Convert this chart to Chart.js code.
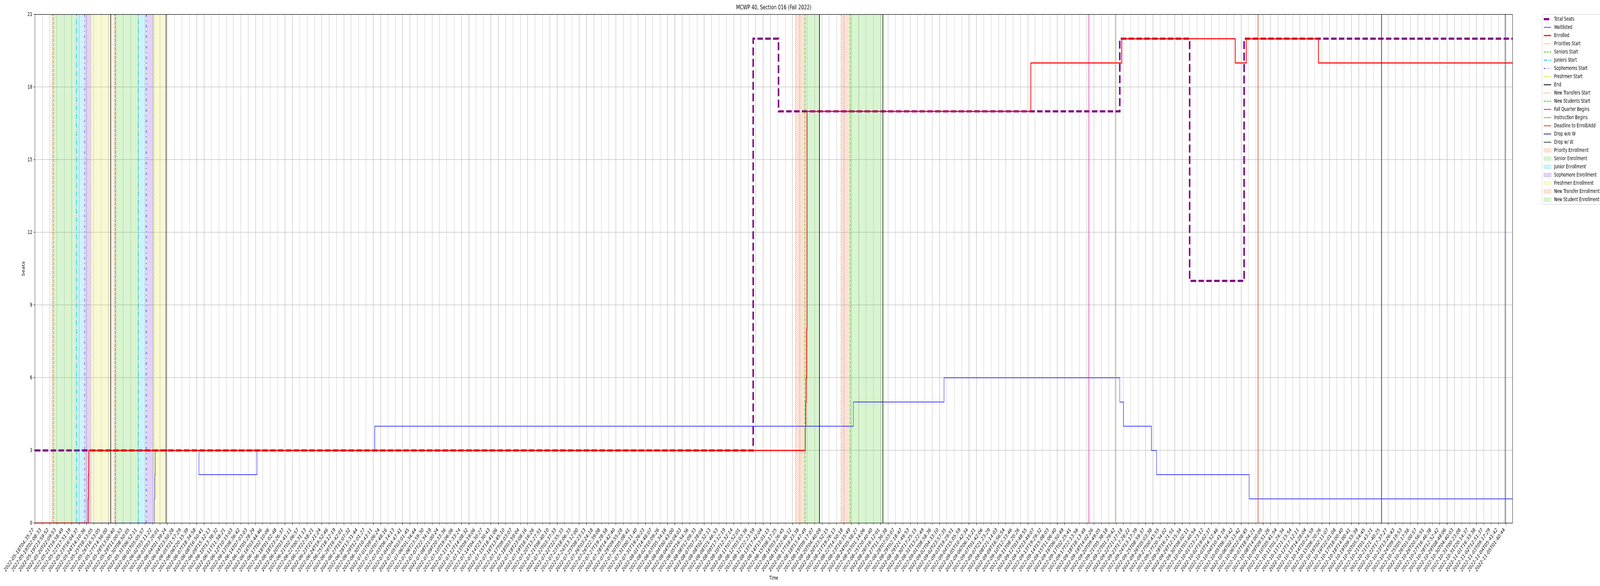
<!DOCTYPE html>
<html><head><meta charset="utf-8">
<script src="https://cdn.jsdelivr.net/npm/chart.js@4.4.1/dist/chart.umd.min.js"></script>
<style>html,body{margin:0;padding:0;background:#fff;overflow:hidden;}canvas{display:block;}</style>
</head><body>
<canvas id="c" width="6000" height="1500"></canvas>
<script>
// ---- tick labels (one per x index) ----
const tickLabels = [
"2022-05-18T04:35:27","2022-05-19T02:08:33","2022-05-19T23:59:52","2022-05-20T22:09:53","2022-05-21T19:58:49",
"2022-05-22T17:51:19","2022-05-23T16:04:37","2022-05-24T14:10:36","2022-05-25T18:53:05","2022-05-26T16:53:05",
"2022-05-27T14:56:00","2022-05-28T13:00:40","2022-05-29T11:00:53","2022-05-30T08:50:05","2022-05-31T06:52:11",
"2022-06-01T05:05:57","2022-06-02T03:11:22","2022-06-03T03:20:01","2022-06-04T01:39:24","2022-06-04T23:50:28",
"2022-06-05T21:57:29","2022-06-06T20:15:39","2022-06-07T18:34:58","2022-06-08T16:50:41","2022-06-09T15:12:13",
"2022-06-10T13:38:32","2022-06-11T11:58:21","2022-06-12T10:15:03","2022-06-13T08:36:42","2022-06-14T07:03:03",
"2022-06-15T05:28:29","2022-06-16T03:44:46","2022-06-17T02:10:06","2022-06-18T01:02:48","2022-06-18T23:26:37",
"2022-06-20T03:41:11","2022-06-21T02:06:57","2022-06-22T00:31:13","2022-06-22T22:58:21","2022-06-23T21:21:24",
"2022-06-24T19:52:46","2022-06-25T18:12:19","2022-06-26T16:42:01","2022-06-27T15:07:32","2022-06-28T13:31:44",
"2022-06-29T12:01:27","2022-06-30T10:43:11","2022-07-01T09:06:24","2022-07-02T07:48:16","2022-07-03T06:14:13",
"2022-07-04T04:47:41","2022-07-05T03:01:45","2022-07-06T01:34:44","2022-07-06T23:59:30","2022-07-07T22:34:19",
"2022-07-08T21:00:24","2022-07-09T20:33:36","2022-07-10T19:06:06","2022-07-11T17:33:24","2022-07-12T14:08:32",
"2022-07-13T09:19:06","2022-07-14T04:30:27","2022-07-14T23:30:43","2022-07-15T18:41:06","2022-07-16T13:45:10",
"2022-07-17T09:03:07","2022-07-18T03:59:04","2022-07-18T23:08:16","2022-07-19T18:16:26","2022-07-20T13:27:51",
"2022-07-21T08:40:10","2022-07-22T03:37:33","2022-07-22T22:55:33","2022-07-23T18:06:33","2022-07-24T13:12:00",
"2022-07-25T08:23:13","2022-07-26T03:24:18","2022-07-26T22:39:08","2022-07-27T19:28:58","2022-07-28T14:42:40",
"2022-07-29T09:55:28","2022-07-30T05:08:41","2022-07-31T00:11:40","2022-07-31T19:26:23","2022-08-01T14:48:07",
"2022-08-02T10:09:26","2022-08-03T05:34:16","2022-08-04T00:43:00","2022-08-04T20:04:03","2022-08-05T16:54:36",
"2022-08-06T12:09:33","2022-08-07T07:28:04","2022-08-08T02:32:13","2022-08-08T21:46:53","2022-08-09T17:12:19",
"2022-08-10T12:32:14","2022-08-11T07:52:01","2022-08-12T03:03:36","2022-08-12T22:23:59","2022-08-13T17:42:04",
"2022-08-14T13:01:15","2022-08-15T08:17:25","2022-08-16T03:26:45","2022-08-16T22:46:12","2022-08-17T18:23:38",
"2022-08-18T13:47:49","2022-08-19T09:17:07","2022-08-20T04:40:09","2022-08-20T23:52:15","2022-08-21T19:26:13",
"2022-08-22T14:50:18","2022-08-23T10:15:49","2022-08-24T05:58:27","2022-08-25T01:14:06","2022-08-25T20:40:40",
"2022-08-26T16:12:01","2022-08-27T11:36:38","2022-08-28T07:03:07","2022-08-29T02:18:47","2022-08-29T21:49:53",
"2022-08-30T17:25:15","2022-08-31T13:22:49","2022-09-01T08:58:36","2022-09-02T04:33:10","2022-09-02T23:57:35",
"2022-09-03T19:29:51","2022-09-04T15:05:59","2022-09-05T10:42:34","2022-09-06T06:15:21","2022-09-07T01:42:06",
"2022-09-07T21:23:29","2022-09-08T21:14:03","2022-09-09T16:56:54","2022-09-10T12:33:46","2022-09-11T08:20:26",
"2022-09-12T03:48:55","2022-09-12T23:49:07","2022-09-13T19:29:32","2022-09-14T15:08:03","2022-09-15T11:06:40",
"2022-09-16T06:50:49","2022-09-17T02:25:41","2022-09-17T22:13:56","2022-09-18T18:13:49","2022-09-19T14:02:26",
"2022-09-20T09:49:05","2022-09-21T05:38:18","2022-09-22T01:29:42","2022-09-22T21:27:18","2022-09-23T17:28:22",
"2022-09-24T13:17:39","2022-09-25T08:59:37","2022-09-26T05:03:38","2022-09-27T00:43:55","2022-09-27T20:34:02",
"2022-09-28T16:21:51","2022-09-29T12:15:34","2022-09-30T08:02:11","2022-10-01T03:40:54","2022-10-01T23:23:12",
"2022-10-02T19:02:37","2022-10-03T14:52:46","2022-10-04T10:41:16","2022-10-05T06:34:42","2022-10-06T02:13:42",
"2022-10-06T22:08:45","2022-10-07T18:04:21","2022-10-08T14:00:09","2022-10-09T09:51:26","2022-10-10T05:41:54",
"2022-10-11T01:24:34","2022-10-11T21:15:54","2022-10-12T17:12:11","2022-10-13T14:28:04","2022-10-14T10:24:59",
"2022-10-15T06:20:26","2022-10-16T02:11:07","2022-10-16T22:01:08","2022-10-17T18:00:40","2022-10-18T14:00:41",
"2022-10-19T09:55:39","2022-10-20T05:54:45","2022-10-21T01:43:21","2022-10-21T21:40:25","2022-10-22T17:37:27",
"2022-10-23T13:26:43","2022-10-24T09:19:53","2022-10-25T05:17:56","2022-10-26T01:00:57","2022-10-26T20:56:51",
"2022-10-27T16:46:38","2022-10-28T12:52:42","2022-10-29T08:49:06","2022-10-30T04:40:03","2022-10-31T00:23:08",
"2022-10-31T20:14:37","2022-11-01T16:33:38","2022-11-02T12:51:37","2022-11-03T09:17:29","2022-11-04T05:41:42",
"2022-11-05T01:40:44"
];
const xMax = 200.9;            // end of the time axis (in tick-index units)
const yTicks = [0, 3, 6, 9, 12, 15, 18, 21];

// ---- series (value holds from x onward; x in tick-index units) ----
const totalSeatsX = [0, 97.65, 101.1, 147.5, 157.0, 164.4, 200.9];
const totalSeatsY = [3, 20, 17, 20, 10, 20, 20];
const waitlistedX = [0, 16.24, 16.30, 16.36, 22.30, 30.19, 46.2, 111.28, 123.6, 147.5, 148.0, 151.8, 152.5, 165.1, 200.9];
const waitlistedY = [0, 1, 2, 3, 2, 3, 4, 5, 6, 5, 4, 3, 2, 1, 1];
const enrolledX = [0, 7.23, 7.28, 7.32, 104.74, 104.80, 104.86, 104.92, 104.98, 135.4, 147.76, 163.2, 164.7, 174.5, 200.9];
const enrolledY = [0, 1, 2, 3, 4, 5, 6, 8, 17, 19, 20, 19, 20, 19, 19];

// ---- event markers ----
const prioritiesStart = [2.32, 10.75];
const seniorsStart = [2.52, 10.93];
const juniorsStart = [5.65, 14.05];
const sophomoresStart = [6.75, 15.14];
const freshmenStart = [7.64, 16.20];
const endMarks = [10.31, 17.84, 106.67, 115.30];
const newTransfersStart = [103.40, 109.61];
const newStudentsStart = [104.69, 110.84];
const fallQuarterBegins = [143.3];
const instructionBegins = [146.9];
const deadlineEnrollAdd = [166.3];
const dropWithoutW = [183.1];
const dropWithW = [199.9];

// ---- enrollment windows [start, end] ----
const priorityEnrollment = [[2.32, 2.52], [10.75, 10.93]];
const seniorEnrollment = [[2.52, 5.65], [10.93, 14.05]];
const juniorEnrollment = [[5.65, 6.75], [14.05, 15.14]];
const sophomoreEnrollment = [[6.75, 7.64], [15.14, 16.20]];
const freshmenEnrollment = [[7.64, 10.31], [16.20, 17.84]];
const newTransferEnrollment = [[103.40, 104.69], [109.61, 110.84]];
const newStudentEnrollment = [[104.69, 106.67], [110.84, 115.30]];

// ---- styles ----
const FONT = 'DejaVu Sans';
const seriesDefs = [
  {label:'Total Seats', xs: totalSeatsX, ys: totalSeatsY, color:'#800080', width:5.5, dash:[20.5, 8.9], order:22},
  {label:'Waitlisted', xs: waitlistedX, ys: waitlistedY, color:'#0000ff', width:1.4, dash:[], order:21},
  {label:'Enrolled', xs: enrolledX, ys: enrolledY, color:'#ff0000', width:2.8, dash:[], order:20}
];
const markerDefs = [
  {label:'Priorities Start', xs: prioritiesStart, color:'#ee6c30', width:2, dash:[2.1, 3.4]},
  {label:'Seniors Start', xs: seniorsStart, color:'#3cc814', width:2, dash:[7.7, 3.3]},
  {label:'Juniors Start', xs: juniorsStart, color:'#00c5d5', width:2, dash:[13.3, 3.3, 2.1, 3.3]},
  {label:'Sophomores Start', xs: sophomoresStart, color:'#6a22d6', width:2, dash:[6.5, 9, 2.5, 9]},
  {label:'Freshmen Start', xs: freshmenStart, color:'#dcdc28', width:2, dash:[6.2, 2.1, 2.1, 2.1]},
  {label:'End', xs: endMarks, color:'#000000', width:2, dash:[]},
  {label:'New Transfers Start', xs: newTransfersStart, color:'#ee6c30', width:2, dash:[2.1, 3.4]},
  {label:'New Students Start', xs: newStudentsStart, color:'#3cc814', width:2, dash:[7.7, 3.3]},
  {label:'Fall Quarter Begins', xs: fallQuarterBegins, color:'#e0189c', width:2, dash:[]},
  {label:'Instruction Begins', xs: instructionBegins, color:'#8cb414', width:2, dash:[]},
  {label:'Deadline to Enroll/Add', xs: deadlineEnrollAdd, color:'#d2461e', width:2, dash:[]},
  {label:'Drop w/o W', xs: dropWithoutW, color:'#2a2a8c', width:2, dash:[]},
  {label:'Drop w/ W', xs: dropWithW, color:'#334466', width:2, dash:[]}
];
const spanDefs = [
  {label:'Priority Enrollment', spans: priorityEnrollment, rgb:[238,108,48]},
  {label:'Senior Enrollment', spans: seniorEnrollment, rgb:[60,200,20]},
  {label:'Junior Enrollment', spans: juniorEnrollment, rgb:[0,197,213]},
  {label:'Sophomore Enrollment', spans: sophomoreEnrollment, rgb:[106,34,214]},
  {label:'Freshmen Enrollment', spans: freshmenEnrollment, rgb:[220,220,40]},
  {label:'New Transfer Enrollment', spans: newTransferEnrollment, rgb:[238,108,48]},
  {label:'New Student Enrollment', spans: newStudentEnrollment, rgb:[60,200,20]}
];
const rgba = (c, a) => `rgba(${c[0]},${c[1]},${c[2]},${a})`;

// ---- datasets ----
const datasets = [];
spanDefs.forEach(d => d.spans.forEach(s => datasets.push({
  label: d.label, data: [{x: s[0], y: yTicks[yTicks.length-1]}, {x: s[1], y: yTicks[yTicks.length-1]}],
  borderWidth: 0, borderColor: 'rgba(0,0,0,0)', backgroundColor: rgba(d.rgb, 0.2),
  fill: 'origin', pointRadius: 0, order: 30
})));
seriesDefs.forEach(d => datasets.push({
  label: d.label, data: d.xs.map((x, i) => ({x, y: d.ys[i]})),
  borderColor: d.color, borderWidth: d.width, borderDash: d.dash, stepped: 'before',
  fill: false, pointRadius: 0, order: d.order, borderCapStyle: 'butt'
}));
markerDefs.forEach(d => {
  const pts = [];
  d.xs.forEach((x, i) => { if (i > 0) pts.push({x, y: null}); pts.push({x, y: 0}); pts.push({x, y: yTicks[yTicks.length-1]}); });
  datasets.push({label: d.label, data: pts, borderColor: d.color, borderWidth: d.width, borderDash: d.dash,
    fill: false, pointRadius: 0, order: 10, spanGaps: false, borderCapStyle: 'butt'});
});

// ---- plugins: spines and legend ----
const spines = {
  id: 'spines',
  afterDatasetsDraw(chart) {
    const {ctx, chartArea: a} = chart;
    ctx.save(); ctx.strokeStyle = '#000'; ctx.lineWidth = 1.1; ctx.setLineDash([]);
    ctx.strokeRect(a.left, a.top, a.right - a.left, a.bottom - a.top);
    ctx.restore();
  }
};
const outsideLegend = {
  id: 'outsideLegend',
  afterDraw(chart) {
    const ctx = chart.ctx;
    const left = 5783, top = 37, row = 21, firstY = 49, hx0 = 5789, hx1 = 5817, tx = 5828;
    const entries = [...seriesDefs.map(d => ({type:'line', ...d})), ...markerDefs.map(d => ({type:'line', ...d})),
                     ...spanDefs.map(d => ({type:'patch', ...d}))];
    ctx.save();
    ctx.font = `13.9px "${FONT}"`;
    let maxW = 0; entries.forEach(e => { maxW = Math.max(maxW, ctx.measureText(e.label).width); });
    const w = tx + maxW + 6 - left, h = entries.length * row + 3;
    ctx.beginPath(); ctx.roundRect(left, top, w, h, 3);
    ctx.fillStyle = 'rgba(255,255,255,0.8)'; ctx.fill();
    ctx.strokeStyle = '#cccccc'; ctx.lineWidth = 1; ctx.stroke();
    entries.forEach((e, i) => {
      const y = firstY + i * row;
      if (e.type === 'line') {
        ctx.beginPath(); ctx.setLineDash(e.dash); ctx.lineCap = 'butt';
        ctx.strokeStyle = e.color; ctx.lineWidth = e.width;
        ctx.moveTo(hx0, y); ctx.lineTo(hx1, y); ctx.stroke();
      } else {
        ctx.setLineDash([]);
        ctx.fillStyle = rgba(e.rgb, 0.2); ctx.fillRect(hx0, y - 5, hx1 - hx0, 10);
        ctx.strokeStyle = rgba(e.rgb, 0.2); ctx.lineWidth = 1; ctx.strokeRect(hx0, y - 5, hx1 - hx0, 10);
      }
      ctx.setLineDash([]);
      ctx.fillStyle = '#000'; ctx.textBaseline = 'middle'; ctx.textAlign = 'left';
      ctx.fillText(e.label, tx, y);
    });
    ctx.restore();
  }
};

// The chart is laid out on a 6000x1500 bitmap; the element is fitted to the actual window.
const canvas = document.getElementById('c');
canvas.style.width = (window.innerWidth || 6000) + 'px';
canvas.style.height = (window.innerHeight || 1500) + 'px';

new Chart(canvas, {
  type: 'line',
  data: { datasets },
  plugins: [spines, outsideLegend],
  options: {
    responsive: false, animation: false, devicePixelRatio: 1,
    layout: { padding: { left: 0, right: 328, top: 0, bottom: 0 } },
    plugins: {
      legend: { display: false },
      tooltip: { enabled: false },
      title: { display: true, fullSize: false, text: 'MCWP 40, Section 016 (Fall 2022)', color: '#000',
               font: { family: FONT, size: 16.7, weight: 'normal' }, padding: { top: 10, bottom: 7 } }
    },
    scales: {
      x: {
        type: 'linear', min: 0, max: xMax,
        afterBuildTicks: s => { s.ticks = tickLabels.map((_, i) => ({value: i})); },
        afterFit: s => { s.height = 161; },
        ticks: { autoSkip: false, minRotation: 45, maxRotation: 45, labelOffset: -5.7, padding: 4.6, color: '#000',
                 font: { family: FONT, size: 13.9 }, callback: v => tickLabels[Math.round(v)] },
        grid: { color: '#b0b0b0', lineWidth: 1.1, tickColor: '#000', tickLength: 5, tickWidth: 1.1 },
        border: { display: false },
        title: { display: true, text: 'Time', color: '#000', font: { family: FONT, size: 13.9 }, padding: { top: 0, bottom: 11.7 } }
      },
      y: {
        type: 'linear', min: 0, max: 21,
        afterBuildTicks: s => { s.ticks = yTicks.map(v => ({value: v})); },
        afterFit: s => { s.width = 131; },
        ticks: { color: '#000', padding: 5, font: { family: FONT, size: 13.9 }, callback: v => String(v) },
        grid: { color: '#b0b0b0', lineWidth: 1.1, tickColor: '#000', tickLength: 5, tickWidth: 1.1 },
        border: { display: false },
        title: { display: true, text: 'Seats', color: '#000', font: { family: FONT, size: 13.9 }, padding: { top: 79.7, bottom: 0 } }
      }
    }
  }
});
</script>
</body></html>
